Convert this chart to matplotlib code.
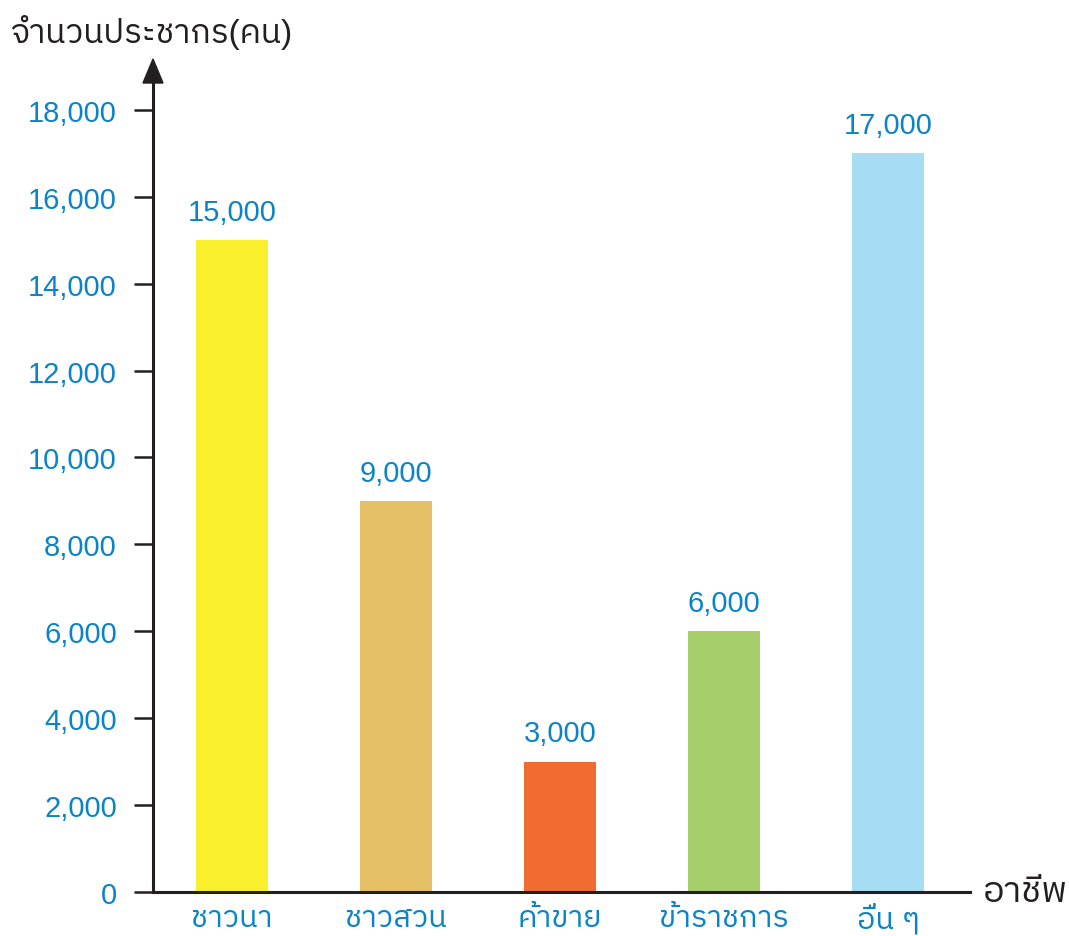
import matplotlib
matplotlib.use("Agg")
import matplotlib.pyplot as plt
from matplotlib import font_manager
from matplotlib.patches import Polygon
from fontTools.ttLib import TTFont

categories = ["ชาวนา", "ชาวสวน", "ค้าขาย", "ข้าราชการ", "อื่น ๆ"]
values = [15000, 9000, 3000, 6000, 17000]
value_labels = ["15,000", "9,000", "3,000", "6,000", "17,000"]
yticks = [0, 2000, 4000, 6000, 8000, 10000, 12000, 14000, 16000, 18000]
ytick_labels = ["0", "2,000", "4,000", "6,000", "8,000", "10,000", "12,000", "14,000", "16,000", "18,000"]
colors = ["#F9EF2C", "#E5C066", "#F06C31", "#A6CE6B", "#A6DDF2"]
ylabel = "จำนวนประชากร(คน)"
xlabel = "อาชีพ"

# find a font with Thai glyphs
thai_family = None
for f in font_manager.fontManager.ttflist:
    try:
        tt = TTFont(f.fname, fontNumber=0, lazy=True)
        cmap = tt.getBestCmap()
        if cmap and 0x0E01 in cmap and 0x0E33 in cmap:
            thai_family = f.name
            if "Sans" in f.name:
                break
    except Exception:
        pass

fams = ["Liberation Sans"]
if thai_family:
    fams.append(thai_family)
fams.append("DejaVu Sans")
plt.rcParams["font.family"] = fams

blue = "#0A84C6"
dark = "#231F20"
W, H = 1069, 937
fig = plt.figure(figsize=(W / 100, H / 100), dpi=100)
x0, x1 = 153, 970
y0, y1 = 893, 60
aw, ah = x1 - x0, y0 - y1
ax = fig.add_axes([x0 / W, (H - y0) / H, aw / W, ah / H])

pos = list(range(len(categories)))
ax.bar(pos, values, width=0.44, color=colors, zorder=2)
ax.set_xlim(-0.482, 4.5)
ax.set_ylim(0, 19170)

for p, v, lab in zip(pos, values, value_labels):
    ax.text(p, v + 330, lab, ha="center", va="bottom", fontsize=21, color=blue)

ax.set_yticks(yticks)
ax.set_yticklabels(ytick_labels, fontsize=21, color=blue)
ax.set_xticks(pos)
ax.set_xticklabels(categories, fontsize=22, color=blue)
ax.tick_params(axis="y", direction="out", length=14, width=1.8, color=dark, pad=12)
ax.tick_params(axis="x", length=0, pad=8)

for s in ["top", "right"]:
    ax.spines[s].set_visible(False)
for s in ["left", "bottom"]:
    ax.spines[s].set_linewidth(2.2)
    ax.spines[s].set_color(dark)
ax.spines["left"].set_bounds(0, 18700)

# arrow head on y axis
head_len, head_half = 24 / ah, 10 / aw
tri = Polygon([[0, 1], [-head_half, 1 - head_len], [head_half, 1 - head_len]],
              closed=True, transform=ax.transAxes, clip_on=False, color=dark, zorder=5)
ax.add_patch(tri)

fig.text(10 / W, (H - 33) / H, ylabel, fontsize=24, color=dark, ha="left", va="center")
fig.text(983 / W, (H - 893) / H, xlabel, fontsize=26, color=dark, ha="left", va="center")

fig.savefig("out.png", dpi=100)
